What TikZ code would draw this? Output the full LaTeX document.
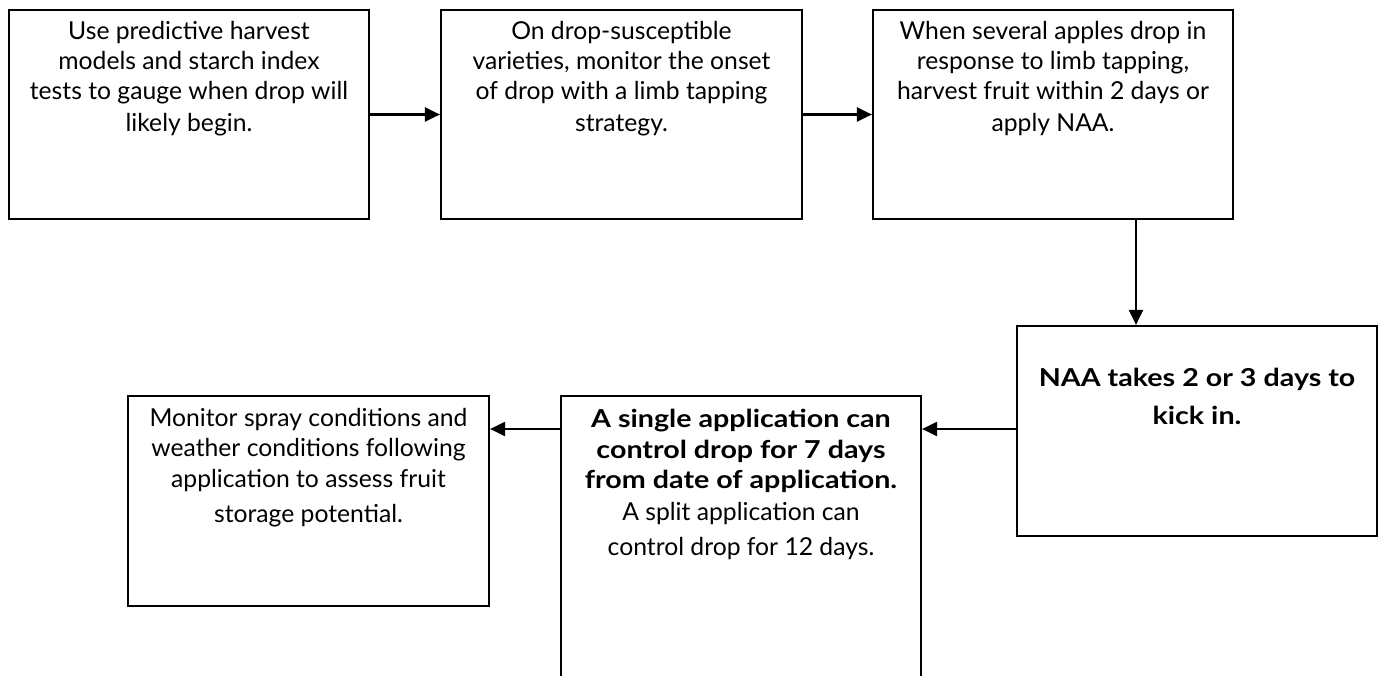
\documentclass[tikz,border=0pt]{standalone}
\usepackage{fontspec}
\setmainfont{Lato}
\newfontfamily\widebold{Lato}[FakeStretch=1.16]
\usetikzlibrary{arrows.meta,calc}
\begin{document}
\begin{tikzpicture}[x=1pt,y=-1pt,
  box/.style={draw,line width=2.2pt,rectangle,inner sep=0pt},
  txt/.style={align=center,inner sep=0pt,font=\fontsize{24.7}{30}\selectfont,anchor=north},
  btxt/.style={align=center,inner sep=0pt,anchor=north},
  arr/.style={line width=2.2pt,-{Triangle[length=15pt,width=14pt]}}]
\useasboundingbox (0,0) rectangle (1382,675);
\clip (0,0) rectangle (1382,675);
\node[box,minimum width=360pt,minimum height=209pt] (b1) at (189,114.5) {};
\node[box,minimum width=361pt,minimum height=209pt] (b2) at (621.5,114.5) {};
\node[box,minimum width=360pt,minimum height=209pt] (b3) at (1053,114.5) {};
\node[box,minimum width=360pt,minimum height=210pt] (b4) at (1197,431) {};
\node[box,minimum width=360pt,minimum height=300pt] (b5) at (741,546) {};
\node[box,minimum width=361pt,minimum height=210pt] (b6) at (308.5,501) {};
\node[txt] (t1) at ([yshift=-12.5pt]b1.north) {Use predictive harvest\\models and starch index\\tests to gauge when drop will\\[2pt]likely begin.};
\node[txt] (t2) at ([yshift=-12.5pt]b2.north) {On drop-susceptible\\varieties, monitor the onset\\of drop with a limb tapping\\[2pt]strategy.};
\node[txt] (t3) at ([yshift=-12.5pt]b3.north) {When several apples drop in\\response to limb tapping,\\harvest fruit within 2 days or\\[2pt]apply NAA.};
\node[btxt,font=\fontsize{24.7}{38}\selectfont\widebold\bfseries] (t4) at ([yshift=-43.5pt]b4.north) {NAA takes 2 or 3 days to\\kick in.};
\node[btxt,font=\fontsize{24.7}{30.5}\selectfont\widebold\bfseries] (t5) at ([yshift=-14.5pt]b5.north) {A single application can\\control drop for 7 days\\from date of application.};
\node[txt,font=\fontsize{24.7}{35}\selectfont] (t5b) at ([yshift=-107.5pt]b5.north) {A split application can\\control drop for 12 days.};
\node[txt,font=\fontsize{24.7}{30.5}\selectfont] (t6) at ([yshift=-13pt]b6.north) {Monitor spray conditions and\\weather conditions following\\application to assess fruit\\[5pt]storage potential.};
\draw[arr] (b1.east) -- (b2.west);
\draw[arr] (b2.east) -- (b3.west);
\draw[arr] ([xshift=83pt]b3.south) -- ([xshift=-61pt]b4.north);
\draw[arr] ([yshift=2pt]b4.west) -- ([yshift=2pt]b4.west -| b5.east);
\draw[arr] ([yshift=2pt]b4.west -| b5.west) -- ([yshift=2pt]b4.west -| b6.east);
\end{tikzpicture}
\end{document}
